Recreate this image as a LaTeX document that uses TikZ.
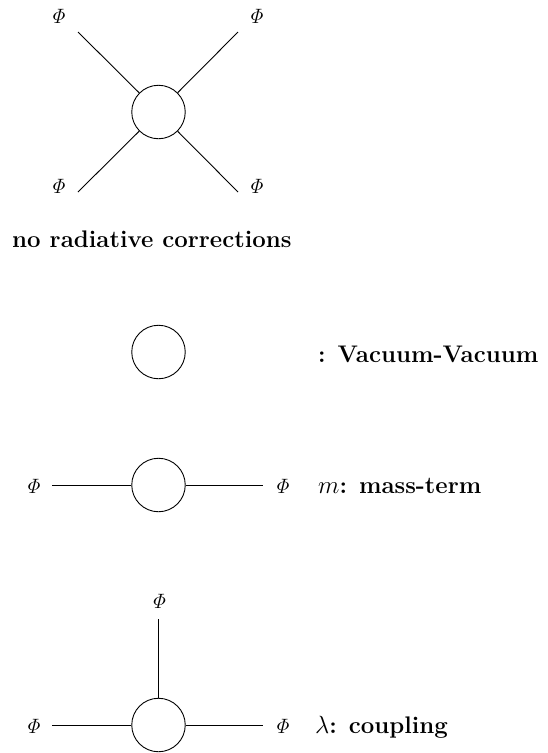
\documentclass[tikz,border=0pt]{standalone}
\usepackage{amsmath}
\begin{document}
\begin{tikzpicture}[x=1pt,y=-1pt,
  blob/.style={draw,circle,minimum size=53.5pt,inner sep=0pt,line width=0.9pt},
  leg/.style={line width=0.9pt},
  fld/.style={inner sep=0pt,font=\fontsize{22}{26}\selectfont},
  lbl/.style={inner sep=0pt,anchor=base west,font=\fontsize{24}{28}\selectfont\bfseries}]
\useasboundingbox (0,0) rectangle (547,753);
% top vertex
\node[blob] (c1) at (158.5,112) {};
\coordinate (a1) at (78,32);
\coordinate (a2) at (238,32);
\coordinate (a3) at (78,192);
\coordinate (a4) at (238,192);
\draw[leg] (c1) -- (a1);
\draw[leg] (c1) -- (a2);
\draw[leg] (c1) -- (a3);
\draw[leg] (c1) -- (a4);
\node[fld] (p1) at (58,16) {$\mathit{\Phi}$};
\node[fld] (p2) at (256,16) {$\mathit{\Phi}$};
\node[fld] (p3) at (58,186) {$\mathit{\Phi}$};
\node[fld] (p4) at (256,186) {$\mathit{\Phi}$};
\node[lbl] (t1) at (12,247) {no radiative corrections};
% vacuum
\node[blob] (c2) at (158.5,352) {};
\node[lbl] (t2) at (318,362) {: Vacuum-Vacuum};
% mass
\node[blob] (c3) at (158.5,485) {};
\coordinate (m1) at (52,485);
\coordinate (m2) at (263,485);
\draw[leg] (c3) -- (m1);
\draw[leg] (c3) -- (m2);
\node[fld] (q1) at (33,486) {$\mathit{\Phi}$};
\node[fld] (q2) at (282,486) {$\mathit{\Phi}$};
\node[lbl] (t3) at (318,493) {$m$: mass-term};
% coupling
\node[blob] (c4) at (158.5,725) {};
\coordinate (k1) at (52,725);
\coordinate (k2) at (263,725);
\coordinate (k3) at (158.5,619);
\draw[leg] (c4) -- (k1);
\draw[leg] (c4) -- (k2);
\draw[leg] (c4) -- (k3);
\node[fld] (r1) at (33,726) {$\mathit{\Phi}$};
\node[fld] (r2) at (282,726) {$\mathit{\Phi}$};
\node[fld] (r3) at (158.5,601) {$\mathit{\Phi}$};
\node[lbl] (t4) at (315,733) {$\lambda$: coupling};
\end{tikzpicture}
\end{document}
